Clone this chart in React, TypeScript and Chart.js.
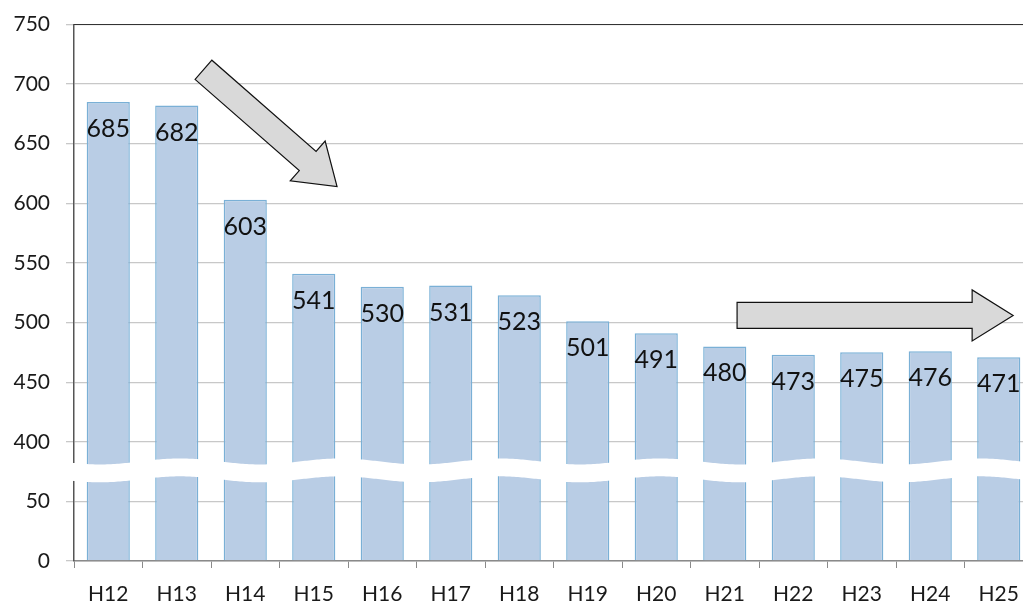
import React, { useEffect, useRef } from "react";
import { Chart, registerables } from "chart.js";

Chart.register(...registerables);

const categories = ["H12", "H13", "H14", "H15", "H16", "H17", "H18", "H19", "H20", "H21", "H22", "H23", "H24", "H25"];
const values = [685, 682, 603, 541, 530, 531, 523, 501, 491, 480, 473, 475, 476, 471];

// broken axis: lower part shows 0..~75, upper part shows ~375..750
const lowerTickLabels = [0, 50];
const upperTickLabels = [400, 450, 500, 550, 600, 650, 700, 750];
const breakOffset = 300; // values above the break are shifted down by this amount
const breakCenter = 76; // in shifted units
const breakHalf = 7.5;

// arrows in data space: [startIndex, startValue, endIndex, endValue]
const arrowDown = [1.39, 712, 3.34, 614];
const arrowFlat = [9.18, 506, 13.21, 506];

const FONT = 'Lato, "Open Sans", sans-serif';

const toAxis = (v: number) => (v > 200 ? v - breakOffset : v);

function drawBlockArrow(
  ctx: CanvasRenderingContext2D,
  x0: number, y0: number, x1: number, y1: number,
  shaftW: number, headW: number, headL: number
) {
  const dx = x1 - x0, dy = y1 - y0;
  const L = Math.hypot(dx, dy);
  const ux = dx / L, uy = dy / L;
  const nx = -uy, ny = ux;
  const bx = x1 - ux * headL, by = y1 - uy * headL;
  const pts = [
    [x0 + nx * shaftW / 2, y0 + ny * shaftW / 2],
    [bx + nx * shaftW / 2, by + ny * shaftW / 2],
    [bx + nx * headW / 2, by + ny * headW / 2],
    [x1, y1],
    [bx - nx * headW / 2, by - ny * headW / 2],
    [bx - nx * shaftW / 2, by - ny * shaftW / 2],
    [x0 - nx * shaftW / 2, y0 - ny * shaftW / 2],
  ];
  ctx.beginPath();
  pts.forEach(([x, y], i) => (i === 0 ? ctx.moveTo(x, y) : ctx.lineTo(x, y)));
  ctx.closePath();
  ctx.fillStyle = "#d9d9d9";
  ctx.fill();
  ctx.lineWidth = 1.2;
  ctx.strokeStyle = "#111";
  ctx.stroke();
}

const breakPlugin = {
  id: "axisBreak",
  afterDatasetsDraw(chart: any) {
    const { ctx, chartArea, scales } = chart;
    const y = scales.y;
    const yTop = y.getPixelForValue(breakCenter + breakHalf);
    const yBot = y.getPixelForValue(breakCenter - breakHalf);
    const x0 = chartArea.left - 5;
    const x1 = chartArea.right + 5;
    const A = 3;
    const P = 160;
    const wave = (x: number) => A * Math.sin(((x - 60) / P) * Math.PI * 2);
    ctx.save();
    ctx.beginPath();
    ctx.moveTo(x0, yTop + wave(x0));
    for (let x = x0; x <= x1; x += 2) ctx.lineTo(x, yTop + wave(x));
    for (let x = x1; x >= x0; x -= 2) ctx.lineTo(x, yBot + wave(x));
    ctx.closePath();
    ctx.fillStyle = "#ffffff";
    ctx.fill();
    ctx.restore();
  },
};

const labelPlugin = {
  id: "barLabels",
  afterDatasetsDraw(chart: any) {
    const { ctx } = chart;
    const meta = chart.getDatasetMeta(0);
    ctx.save();
    ctx.font = `25px ${FONT}`;
    ctx.fillStyle = "#111";
    ctx.textAlign = "center";
    ctx.textBaseline = "middle";
    meta.data.forEach((el: any, i: number) => {
      ctx.fillText(String(values[i]), el.x, el.y + 27);
    });
    ctx.restore();
  },
};

const arrowPlugin = {
  id: "arrows",
  afterDraw(chart: any) {
    const { ctx, scales } = chart;
    const px = (i: number) => scales.x.getPixelForValue(0) + i * (scales.x.getPixelForValue(1) - scales.x.getPixelForValue(0));
    const py = (v: number) => scales.y.getPixelForValue(toAxis(v));
    ctx.save();
    drawBlockArrow(ctx, px(arrowDown[0]), py(arrowDown[1]), px(arrowDown[2]), py(arrowDown[3]), 25.5, 53, 39);
    drawBlockArrow(ctx, px(arrowFlat[0]), py(arrowFlat[1]), px(arrowFlat[2]), py(arrowFlat[3]), 26, 51, 41);
    ctx.restore();
  },
};

const topBorderPlugin = {
  id: "topBorder",
  afterDatasetsDraw(chart: any) {
    const { ctx, chartArea } = chart;
    ctx.save();
    ctx.strokeStyle = "#333";
    ctx.lineWidth = 1.2;
    ctx.beginPath();
    ctx.moveTo(chartArea.left, chartArea.top);
    ctx.lineTo(chartArea.right, chartArea.top);
    ctx.stroke();
    ctx.restore();
  },
};

export default function App() {
  const canvasRef = useRef<HTMLCanvasElement | null>(null);

  useEffect(() => {
    if (!canvasRef.current) return;
    const allTicks = [...lowerTickLabels, ...upperTickLabels].map(toAxis);
    const chart = new Chart(canvasRef.current, {
      type: "bar",
      data: {
        labels: categories,
        datasets: [
          {
            data: values.map(toAxis),
            backgroundColor: "#b9cde5",
            borderColor: "#7ab0d6",
            borderWidth: 1.5,
            categoryPercentage: 1,
            barPercentage: 0.63,
          },
        ],
      },
      options: {
        animation: false,
        responsive: false,
        maintainAspectRatio: false,
        layout: { padding: { top: 24.5, right: 17, left: 0, bottom: 0 } },
        plugins: {
          legend: { display: false },
          tooltip: { enabled: false },
          title: { display: false },
        },
        scales: {
          x: {
            type: "category",
            grid: {
              drawOnChartArea: false,
              drawTicks: true,
              tickLength: 7,
              color: "#8a8a8a",
              offset: true,
            },
            border: { color: "#8a8a8a", width: 1.5 },
            ticks: {
              color: "#1a1a1a",
              font: { family: FONT, size: 21 },
              padding: 14,
              maxRotation: 0,
              autoSkip: false,
            },
            afterFit: (scale: any) => {
              scale.height = 45;
              scale.paddingLeft = 0;
              scale.paddingRight = 0;
            },
          },
          y: {
            type: "linear",
            min: 0,
            max: toAxis(750),
            afterBuildTicks: (scale: any) => {
              scale.ticks = allTicks.map((v) => ({ value: v }));
            },
            grid: {
              color: "#c8c8c8",
              lineWidth: 1.3,
              tickLength: 8,
            },
            border: { color: "#555", width: 1.5 },
            ticks: {
              color: "#1a1a1a",
              font: { family: FONT, size: 21 },
              padding: 16,
              callback: (v: any) => String(v > 60 ? v + breakOffset : v),
            },
            afterFit: (scale: any) => {
              scale.width = 74;
              scale.paddingTop = 0;
              scale.paddingBottom = 0;
            },
          },
        },
      },
      plugins: [labelPlugin, breakPlugin, topBorderPlugin, arrowPlugin],
    });
    return () => chart.destroy();
  }, []);

  return (
    <div style={{ position: "fixed", left: 0, top: 0, width: 1050, height: 606, background: "#fff" }}>
      <canvas ref={canvasRef} width={1050} height={606} style={{ width: 1050, height: 606 }} />
    </div>
  );
}
